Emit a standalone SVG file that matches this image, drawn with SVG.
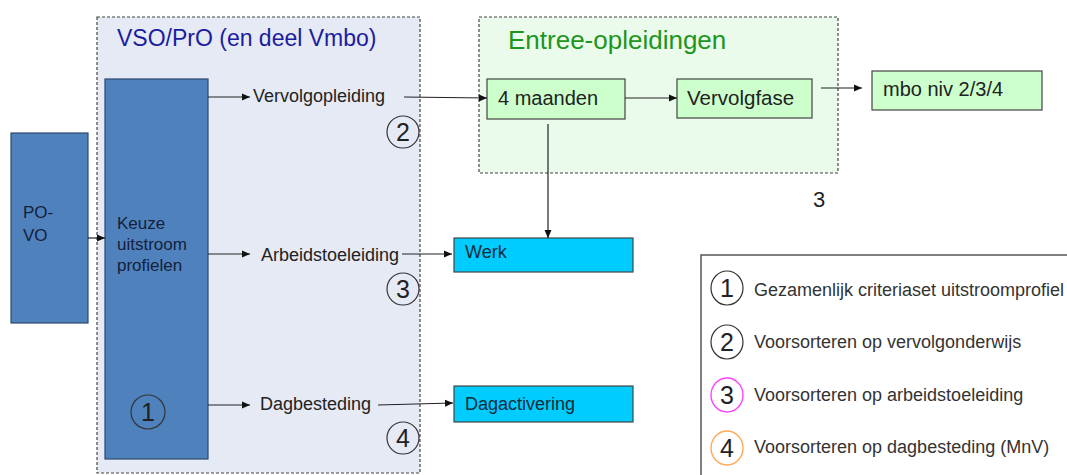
<svg xmlns="http://www.w3.org/2000/svg" width="1067" height="475" viewBox="0 0 1067 475">
<style>
.t{font-family:"Liberation Sans",Arial,sans-serif;fill:#222}
.lbl{font-size:18px}
.box{stroke:#444;stroke-width:1.2}
.blue{fill:#4f81bd;stroke:#2d4a70;stroke-width:1.2}
.green{fill:#ccffcc}
.cyan{fill:#00ccff}
.dash{stroke:#444;stroke-width:1.2;stroke-dasharray:3 2}
.c{fill:none;stroke:#333;stroke-width:1.2}
.cn{font-size:25px;text-anchor:middle}
.ln{fill:none;stroke:#222;stroke-width:1.2}
.lg{font-size:18px;fill:#333}
</style>
<defs>
<marker id="ah" viewBox="0 0 8 8" refX="8" refY="4" markerWidth="8" markerHeight="8" markerUnits="userSpaceOnUse" orient="auto">
<path d="M0,0.5 L8,4 L0,7.5 Z" fill="#111"/>
</marker>
</defs>

<g id="vso-group">
<rect x="97" y="17" width="323" height="456" fill="#e5eaf5" class="dash"/>
<text class="t" x="117" y="46" font-size="23" style="fill:#1c1ca0">VSO/PrO (en deel Vmbo)</text>
</g>

<g id="entree-group">
<rect x="479" y="17" width="359" height="156" fill="#ebfbeb" class="dash"/>
<text class="t" x="508" y="49" font-size="26" style="fill:#1e961e">Entree-opleidingen</text>
</g>

<g id="po-vo">
<rect x="11" y="133" width="77" height="190" class="blue"/>
<text class="t" x="23" y="218" font-size="17" style="fill:#14213a">PO-</text>
<text class="t" x="23" y="241" font-size="17" style="fill:#14213a">VO</text>
</g>

<g id="keuze">
<rect x="105" y="79" width="103" height="380" class="blue"/>
<text class="t" x="117" y="229" font-size="17" style="fill:#14213a">Keuze</text>
<text class="t" x="117" y="250" font-size="17" style="fill:#14213a">uitstroom</text>
<text class="t" x="117" y="271" font-size="17" style="fill:#14213a">profielen</text>
<circle cx="148" cy="412" r="17" class="c"/>
<text class="t cn" x="148" y="421">1</text>
</g>

<g id="vervolgopleiding">
<text class="t lbl" x="253" y="102">Vervolgopleiding</text>
<circle cx="403" cy="132" r="16" class="c"/>
<text class="t cn" x="403" y="141">2</text>
</g>

<g id="arbeidstoeleiding">
<text class="t lbl" x="261" y="261">Arbeidstoeleiding</text>
<circle cx="403" cy="289" r="16" class="c"/>
<text class="t cn" x="403" y="298">3</text>
</g>

<g id="dagbesteding">
<text class="t lbl" x="260" y="410">Dagbesteding</text>
<circle cx="403" cy="438" r="16" class="c"/>
<text class="t cn" x="403" y="447">4</text>
</g>

<g id="vier-maanden">
<rect x="487" y="79" width="138" height="40" class="box green"/>
<text class="t" x="498" y="105" font-size="20">4 maanden</text>
</g>

<g id="vervolgfase">
<rect x="677" y="79" width="135" height="39" class="box green"/>
<text class="t" x="687" y="105" font-size="20.5">Vervolgfase</text>
</g>

<g id="mbo">
<rect x="872" y="71" width="170" height="39" class="box green"/>
<text class="t" x="883" y="96" font-size="20">mbo niv 2/3/4</text>
</g>

<g id="label-3">
<text class="t" x="813" y="207" font-size="22">3</text>
</g>

<g id="werk">
<rect x="454" y="238" width="179" height="34" class="box cyan"/>
<text class="t" x="465" y="258" font-size="18" style="fill:#0d2a3a">Werk</text>
</g>

<g id="dagactivering">
<rect x="454" y="386" width="179" height="36" class="box cyan"/>
<text class="t" x="465" y="410" font-size="18" style="fill:#0d2a3a">Dagactivering</text>
</g>

<g id="legend">
<rect x="701" y="255" width="380" height="240" fill="#fff" stroke="#555" stroke-width="1.5"/>
<ellipse cx="727" cy="288" rx="16" ry="17" fill="none" stroke="#333" stroke-width="1.2"/>
<text class="t cn" x="727" y="297">1</text>
<text class="t lg" x="754" y="296">Gezamenlijk criteriaset uitstroomprofiel</text>
<ellipse cx="727" cy="342" rx="16" ry="17" fill="none" stroke="#333" stroke-width="1.2"/>
<text class="t cn" x="727" y="351">2</text>
<text class="t lg" x="754" y="348">Voorsorteren op vervolgonderwijs</text>
<ellipse cx="727" cy="395" rx="16" ry="17" fill="none" stroke="#ff44ff" stroke-width="1.4"/>
<text class="t cn" x="727" y="404">3</text>
<text class="t lg" x="754" y="401">Voorsorteren op arbeidstoeleiding</text>
<ellipse cx="727" cy="448" rx="16" ry="17" fill="none" stroke="#ffaa55" stroke-width="1.4"/>
<text class="t cn" x="727" y="457">4</text>
<text class="t lg" x="754" y="453">Voorsorteren op dagbesteding (MnV)</text>
</g>

<g id="connectors">
<line x1="88" y1="238" x2="105" y2="238" class="ln" marker-end="url(#ah)"/>
<line x1="208" y1="97" x2="250" y2="97" class="ln" marker-end="url(#ah)"/>
<line x1="208" y1="254" x2="250" y2="254" class="ln" marker-end="url(#ah)"/>
<line x1="208" y1="405" x2="250" y2="405" class="ln" marker-end="url(#ah)"/>
<line x1="404" y1="97" x2="487" y2="98" class="ln" marker-end="url(#ah)"/>
<line x1="402" y1="254" x2="452" y2="254" class="ln" marker-end="url(#ah)"/>
<line x1="378" y1="405" x2="453" y2="403" class="ln" marker-end="url(#ah)"/>
<line x1="625" y1="98" x2="677" y2="98" class="ln" marker-end="url(#ah)"/>
<line x1="821" y1="88" x2="862" y2="88" class="ln" marker-end="url(#ah)"/>
<line x1="548" y1="124" x2="548" y2="238" class="ln" marker-end="url(#ah)"/>
</g>
</svg>
